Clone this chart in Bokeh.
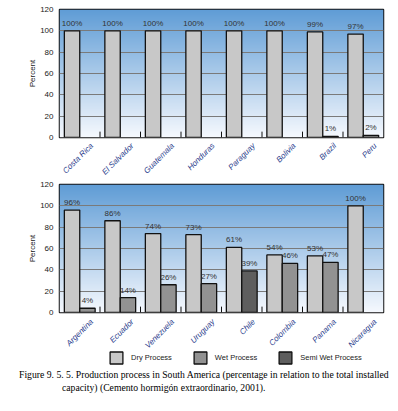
import numpy as np
from bokeh.plotting import figure
from bokeh.models import Range1d, FixedTicker, Legend, LegendItem, Div, ColumnDataSource
from bokeh.layouts import column
from bokeh.embed import file_html
from bokeh.resources import INLINE
from bokeh.core.properties import value

# ---------------- data ----------------
top_countries = ["Costa Rica", "El Salvador", "Guatemala", "Honduras",
                 "Paraguay", "Bolivia", "Brazil", "Peru"]
top_dry = [100, 100, 100, 100, 100, 100, 99, 97]
top_wet = [0, 0, 0, 0, 0, 0, 1, 2]

bottom_countries = ["Argentina", "Ecuador", "Venezuela", "Uruguay",
                    "Chile", "Colombia", "Panama", "Nicaragua"]
bottom_dry = [96, 86, 74, 73, 61, 54, 53, 100]
bottom_wet = [4, 14, 26, 27, 0, 46, 47, 0]
bottom_semi = [0, 0, 0, 0, 39, 0, 0, 0]

y_ticks = [0, 20, 40, 60, 80, 100, 120]
series_names = ["Dry Process", "Wet Process", "Semi Wet Process"]
caption_1 = ("Figure 9. 5. 5. Production process in South America (percentage in "
             "relation to the total installed")
caption_2 = "capacity) (Cemento hormigón extraordinario, 2001)."

# ---------------- style ----------------
COLORS = {"Dry Process": "#c8c8c8", "Wet Process": "#929292", "Semi Wet Process": "#5e5e5e"}
OFFSETS = {"Dry Process": -0.19, "Wet Process": 0.19, "Semi Wet Process": 0.19}
BAR_W = 0.38
LABEL_SHIFT = 0.3
FONT = "Liberation Sans"
W = 398
BL, BR = 59, 15


def gradient_image(n=128):
    top = np.array([96, 157, 214], dtype=float)
    bot = np.array([246, 249, 254], dtype=float)
    img = np.empty((n, 1), dtype=np.uint32)
    view = img.view(dtype=np.uint8).reshape((n, 1, 4))
    for i in range(n):
        t = i / (n - 1)
        c = bot + (top - bot) * t
        view[i, 0, 0] = int(c[0])
        view[i, 0, 1] = int(c[1])
        view[i, 0, 2] = int(c[2])
        view[i, 0, 3] = 255
    return img


def make_chart(countries, series, height, border_top, border_bottom):
    n = len(countries)
    p = figure(width=W, height=height, x_range=Range1d(0, n), y_range=Range1d(0, 120),
               output_backend="svg", toolbar_location=None, x_axis_location=None,
               min_border_left=BL, min_border_right=BR, min_border_top=border_top,
               min_border_bottom=border_bottom)
    p.background_fill_color = "white"
    p.border_fill_color = "white"
    p.outline_line_color = "#111111"
    p.outline_line_width = 1.5

    p.image_rgba(image=[gradient_image()], x=0, y=0, dw=n, dh=120, level="image")

    for name, vals in series:
        xs = [i + 0.5 + OFFSETS[name] for i, v in enumerate(vals) if v > 0]
        ys = [v for v in vals if v > 0]
        src = ColumnDataSource(dict(x=xs, top=ys, lab=[f"{v}%" for v in ys]))
        p.vbar(x="x", top="top", width=BAR_W, bottom=0, source=src,
               fill_color=COLORS[name], line_color="#111111", line_width=1.3)
        p.text(x="x", y="top", text="lab", source=src, text_align="center",
               text_baseline="bottom", y_offset=-3, text_font=value(FONT),
               text_font_size="8px", text_color="#333333")

    # category boundary ticks
    b = list(range(1, n))
    p.segment(x0=b, x1=b, y0=[0] * len(b), y1=[5.5] * len(b),
              line_color="#111111", line_width=1)

    # y axis
    p.yaxis.ticker = FixedTicker(ticks=y_ticks)
    p.yaxis.major_tick_line_color = None
    p.yaxis.minor_tick_line_color = None
    p.yaxis.axis_line_color = None
    p.yaxis.major_tick_out = 0
    p.yaxis.major_tick_in = 0
    p.yaxis.major_label_standoff = 6
    p.yaxis.major_label_text_font = FONT
    p.yaxis.major_label_text_font_size = "8px"
    p.yaxis.major_label_text_color = "#222222"
    p.yaxis.axis_label = "Percent"
    p.yaxis.axis_label_text_font = FONT
    p.yaxis.axis_label_text_font_size = "8px"
    p.yaxis.axis_label_text_font_style = "normal"
    p.yaxis.axis_label_text_color = "#222222"
    p.yaxis.axis_label_standoff = 0

    p.xgrid.grid_line_color = None
    p.ygrid.ticker = FixedTicker(ticks=y_ticks[1:-1])
    p.ygrid.grid_line_color = "#7a7a7a"
    p.ygrid.grid_line_width = 1
    return p


def label_strip(countries, height, offset):
    n = len(countries)
    s = figure(width=W, height=height, x_range=Range1d(0, n), y_range=Range1d(0, 1),
               output_backend="svg", toolbar_location=None,
               x_axis_type=None, y_axis_type=None,
               min_border_left=BL, min_border_right=BR, min_border_top=0,
               min_border_bottom=0)
    s.outline_line_color = None
    s.background_fill_color = "white"
    s.border_fill_color = "white"
    s.xgrid.grid_line_color = None
    s.ygrid.grid_line_color = None
    src = ColumnDataSource(dict(x=[i + 0.5 + LABEL_SHIFT for i in range(n)],
                                y=[1] * n, t=countries))
    s.text(x="x", y="y", text="t", source=src, angle=np.pi / 4,
           text_align="right", text_baseline="middle", y_offset=offset,
           text_font=value(FONT), text_font_style="italic",
           text_font_size="8px", text_color="#2a3c8c")
    return s


p1 = make_chart(top_countries,
                [("Dry Process", top_dry), ("Wet Process", top_wet)],
                height=142, border_top=9, border_bottom=5)
s1 = label_strip(top_countries, height=34, offset=2)
p2 = make_chart(bottom_countries,
                [("Dry Process", bottom_dry), ("Wet Process", bottom_wet),
                 ("Semi Wet Process", bottom_semi)],
                height=141, border_top=8, border_bottom=5)
s2 = label_strip(bottom_countries, height=51, offset=3)

# legend (in bottom label strip); swatch renderers carry no visible data
items = []
for nm in series_names:
    r = s2.vbar(x=[float("nan")], top=[float("nan")], width=0.1, fill_color=COLORS[nm],
                line_color="#111111", line_width=1.3)
    items.append(LegendItem(label=nm, renderers=[r]))
legend = Legend(items=items, orientation="horizontal", location=(49, 3))
legend.glyph_width = 16
legend.glyph_height = 15
legend.spacing = 20
legend.label_standoff = 7
legend.label_text_font = FONT
legend.label_text_font_size = "7.5px"
legend.label_text_color = "#222222"
legend.border_line_color = None
legend.background_fill_alpha = 0
legend.padding = 0
legend.margin = 0
s2.add_layout(legend, "center")

cap = Div(text=(f'<div style="white-space:nowrap;padding-left:19px">{caption_1}</div>'
                f'<div style="white-space:nowrap;padding-left:62px">{caption_2}</div>'),
          width=W, height=40, margin=(0, 0, 0, 0),
          styles={"font-family": "Liberation Serif", "font-size": "9.7px",
                  "line-height": "13px", "color": "#000000"})

layout = column(p1, s1, p2, s2, cap, spacing=0)
open("out.html", "w").write(file_html(layout, INLINE))
